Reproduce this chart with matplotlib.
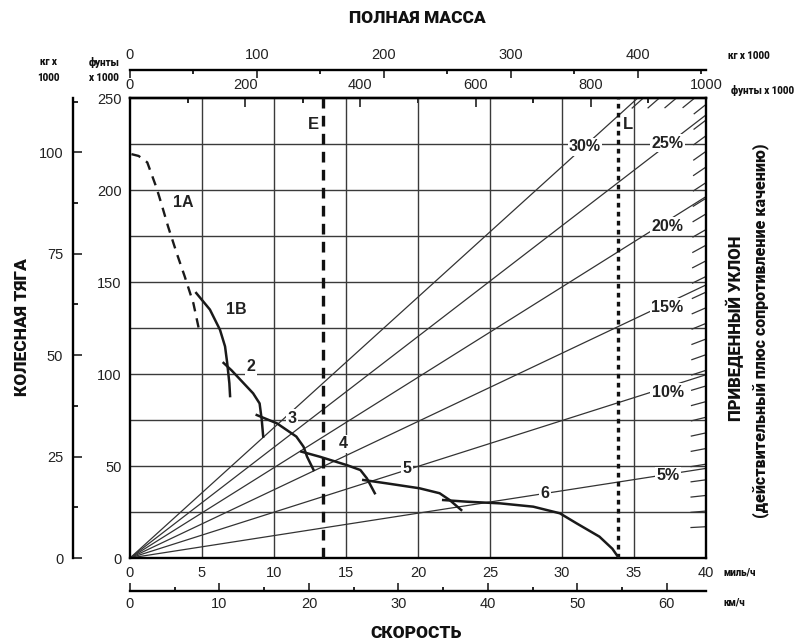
import numpy as np
from matplotlib import pyplot as plt
from matplotlib.ticker import MultipleLocator

plt.rcParams['font.family'] = ['Liberation Sans', 'DejaVu Sans']
COND = ['Roboto', 'DejaVu Sans']

KG_PER_LB = 0.45359237
KMH_PER_MPH = 1.609344
MPH_MAX = 40
KLB_MAX = 250
MASS_MAX = 1000  # lb x 1000 at the right edge of the top scale

# rimpull curves: speed (mph) and rimpull (lb x 1000)
gear_1a_mph = [0.1, 0.6, 1.2, 1.85, 2.2, 2.65, 3.25, 3.8, 4.4, 4.85]
gear_1a_klb = [219.5, 218.5, 215, 201, 192, 180, 165.5, 153, 138.5, 122]
gear_1b_mph = [4.6, 5.55, 6.25, 6.6, 6.75, 6.9, 6.95]
gear_1b_klb = [144, 135, 124, 115, 106, 95, 88]
gear_2_mph = [6.5, 7.05, 8.55, 9.0, 9.15, 9.25]
gear_2_klb = [106, 102, 89.5, 84, 75, 66]
gear_3_mph = [8.8, 10.2, 11.55, 12.05, 12.3, 12.75]
gear_3_klb = [77.7, 73.2, 66, 60.5, 55, 47.8]
gear_4_mph = [11.9, 13.2, 15.05, 16.0, 16.45, 17.0]
gear_4_klb = [57.8, 55, 50.5, 47.8, 43.3, 35.2]
gear_5_mph = [16.2, 17.8, 20.1, 21.5, 22.2, 23.0]
gear_5_klb = [42.4, 40.6, 37.9, 35.2, 31.5, 26.1]
gear_6_mph = [21.75, 23.4, 25.7, 28.0, 29.85, 31.0, 32.6, 33.5, 33.9]
gear_6_klb = [31.5, 30.6, 29.7, 27.9, 24.3, 18.9, 11.6, 5, 0.5]

gear_names = ['1A', '1B', '2', '3', '4', '5', '6']
gear_label_mph = [3.7, 7.35, 8.4, 11.25, 14.8, 19.25, 28.8]
gear_label_klb = [193, 135, 104, 76, 62, 48.4, 35.3]

# effective grade lines: rimpull reached at 40 mph (lb x 1000)
grade_names = ['5%', '10%', '15%', '20%', '25%', '30%']
grade_end_klb = [48.7, 99.6, 148.4, 196.4, 240.8, 283.6]
grade_label_mph = [37.35, 37.35, 37.3, 37.35, 37.35, 31.6]
grade_label_klb = [44.6, 90.2, 136.4, 180.4, 225.5, 223.4]

hatch_grades = np.arange(1.7, 28.5, 0.85)

e_speed = 13.4
l_speed = 33.9

mph_ticks = np.arange(0, 41, 5)
klb_ticks = np.arange(0, 251, 50)
lb_ticks = np.arange(0, 1001, 200)
kg_mass_ticks = np.arange(0, 401, 100)
kmh_ticks = np.arange(0, 61, 10)
kg_pull_ticks = np.arange(0, 101, 25)

fig = plt.figure(figsize=(7.94, 6.44), dpi=100)
ax = fig.add_axes([130 / 794, 86 / 644, 576 / 794, 460 / 644])
ax.set_xlim(0, MPH_MAX)
ax.set_ylim(0, KLB_MAX)
ax.set_xticks(mph_ticks)
ax.set_yticks(klb_ticks)
ax.tick_params(length=0, labelsize=10.5, pad=6, colors='#222')
for s in ax.spines.values():
    s.set_linewidth(1.7)

for v in np.arange(5, 40, 5):
    ax.axvline(v, color='#3a3a3a', lw=1.0, zorder=1)
for v in np.arange(25, 250, 25):
    ax.axhline(v, color='#3a3a3a', lw=1.0, zorder=1)

# grade lines from the origin
for end in grade_end_klb:
    ax.plot([0, MPH_MAX], [0, end], color='#333', lw=0.9, zorder=2)

# short grade marks along the right and top edges
px_x = 576 / MPH_MAX
px_y = 460 / KLB_MAX
for g in hatch_grades:
    slope = g * MASS_MAX / 100 / MPH_MAX
    if slope * MPH_MAX <= KLB_MAX:
        xe, ye = MPH_MAX, slope * MPH_MAX
    else:
        xe, ye = KLB_MAX / slope, KLB_MAX
    n = np.hypot(px_x, px_y * slope)
    L = 15
    ax.plot([xe - L / n, xe], [ye - L * slope / n, ye], color='#333', lw=0.9, zorder=2)

# rimpull curves
ax.plot(gear_1a_mph, gear_1a_klb, color='#1a1a1a', lw=1.7, ls=(0, (4, 3)), zorder=4)
for xs, ys in [(gear_1b_mph, gear_1b_klb), (gear_2_mph, gear_2_klb), (gear_3_mph, gear_3_klb),
               (gear_4_mph, gear_4_klb), (gear_5_mph, gear_5_klb), (gear_6_mph, gear_6_klb)]:
    ax.plot(xs, ys, color='#1a1a1a', lw=1.8, zorder=4)

# E and L limits
ax.plot([e_speed, e_speed], [0, KLB_MAX], color='#111', lw=2.4, ls=(0, (3.2, 2.2)), zorder=3)
ax.plot([l_speed, l_speed], [0, KLB_MAX], color='#111', lw=2.4, ls=(0, (1.4, 1.3)), zorder=3)
ax.text(12.75, 235.5, 'E', fontsize=12, fontweight='bold', ha='center', va='center', color='#222')
ax.text(34.6, 235.5, 'L', fontsize=12, fontweight='bold', ha='center', va='center', color='#222')

box = dict(fc='white', ec='none', pad=1.0)
for name, x, y in zip(gear_names, gear_label_mph, gear_label_klb):
    ax.text(x, y, name, fontsize=11.5, fontweight='bold', ha='center', va='center',
            color='#222', bbox=box, zorder=5)
for name, x, y in zip(grade_names, grade_label_mph, grade_label_klb):
    ax.text(x, y, name, fontsize=11.5, fontweight='bold', ha='center', va='center',
            color='#222', bbox=box, zorder=5)

# top: gross mass in lb x 1000
top_lb = ax.secondary_xaxis('top', functions=(lambda m: m * MASS_MAX / MPH_MAX,
                                              lambda w: w * MPH_MAX / MASS_MAX))
top_lb.set_xticks(lb_ticks)
top_lb.xaxis.set_minor_locator(MultipleLocator(100))
top_lb.tick_params(which='major', direction='in', length=6.5, width=1.2, pad=4, labelsize=10.5, colors='#222')
top_lb.tick_params(which='minor', direction='in', length=3.6, width=1.2)
top_lb.spines['top'].set_linewidth(1.7)

# top: gross mass in kg x 1000
top_kg = ax.secondary_xaxis((558 - 70) / 460, functions=(lambda m: m * MASS_MAX / MPH_MAX * KG_PER_LB,
                                                         lambda k: k / KG_PER_LB * MPH_MAX / MASS_MAX))
top_kg.set_xticks(kg_mass_ticks)
top_kg.xaxis.set_minor_locator(MultipleLocator(50))
top_kg.tick_params(which='major', direction='in', length=6, width=1.2, pad=6, labelsize=10.5, colors='#222')
top_kg.tick_params(which='minor', direction='in', length=3.2, width=1.2)
top_kg.spines['top'].set_linewidth(1.7)

# bottom: speed in km/h
bot_kmh = ax.secondary_xaxis((558 - 591) / 460, functions=(lambda m: m * KMH_PER_MPH,
                                                           lambda k: k / KMH_PER_MPH))
bot_kmh.set_xticks(kmh_ticks)
bot_kmh.xaxis.set_minor_locator(MultipleLocator(5))
bot_kmh.tick_params(which='major', direction='in', length=6, width=1.2, pad=4, labelsize=10.5, colors='#222')
bot_kmh.tick_params(which='minor', direction='in', length=3.2, width=1.2)
bot_kmh.spines['bottom'].set_linewidth(1.7)

# left: rimpull in kg x 1000
left_kg = ax.secondary_yaxis((73 - 130) / 576, functions=(lambda p: p * KG_PER_LB,
                                                          lambda k: k / KG_PER_LB))
left_kg.set_yticks(kg_pull_ticks)
left_kg.yaxis.set_minor_locator(MultipleLocator(12.5))
left_kg.tick_params(which='major', direction='in', length=6.5, width=1.2, pad=7, labelsize=10.5, colors='#222')
left_kg.tick_params(which='minor', direction='in', length=3.6, width=1.2)
left_kg.spines['left'].set_linewidth(1.7)

# titles and units
def ftext(x, y, s, **kw):
    fig.text(x / 794, 1 - y / 644, s, **kw)

title = dict(family=COND, fontweight='heavy', ha='center', va='center', color='#111')
ftext(417, 18, 'ПОЛНАЯ МАССА', fontsize=12.5, **title)
ftext(416, 633, 'СКОРОСТЬ', fontsize=12.5, **title)
ftext(22, 327, 'КОЛЕСНАЯ ТЯГА', fontsize=12.5, rotation=90, **title)
ftext(735, 328, 'ПРИВЕДЕННЫЙ УКЛОН', fontsize=12, rotation=90, **title)
ftext(761, 331, '(действительный плюс сопротивление качению)', fontsize=11.5, rotation=90, **title)

unit = dict(family=COND, fontweight='heavy', fontsize=7, va='center', color='#111')
ftext(48, 62, 'кг x', ha='center', **unit)
ftext(48, 78, '1000', ha='center', **unit)
ftext(104, 62, 'фунты', ha='center', **unit)
ftext(104, 78, 'x 1000', ha='center', **unit)
ftext(728, 56, 'кг x 1000', ha='left', **unit)
ftext(731, 90, 'фунты x 1000', ha='left', **unit)
ftext(723, 572, 'миль/ч', ha='left', **unit)
ftext(723, 602, 'км/ч', ha='left', **unit)

fig.savefig('out.png', dpi=100)
